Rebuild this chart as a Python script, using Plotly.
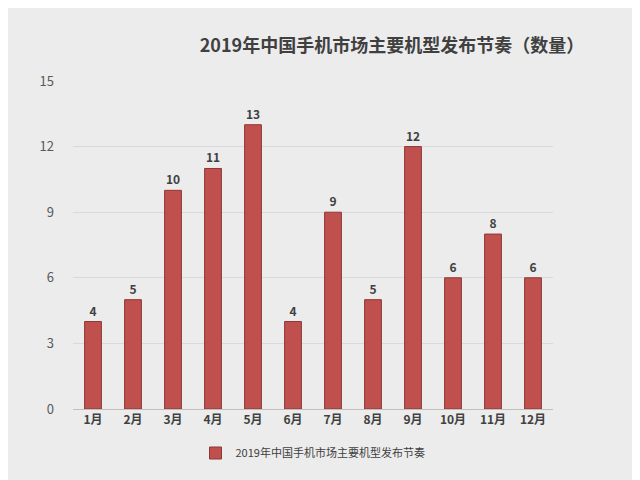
import plotly.graph_objects as go

months = ["1月", "2月", "3月", "4月", "5月", "6月", "7月", "8月", "9月", "10月", "11月", "12月"]
counts = [4, 5, 10, 11, 13, 4, 9, 5, 12, 6, 8, 6]
series_name = "2019年中国手机市场主要机型发布节奏"
y_ticks = [0, 3, 6, 9, 12, 15]

font = "Noto Sans CJK SC"

fig = go.Figure()
fig.add_trace(
    go.Bar(
        x=months,
        y=counts,
        name=series_name,
        marker=dict(color="#c0504d", line=dict(color="#8c3836", width=1)),
        width=0.42,
        text=[f"<b>{c}</b>" for c in counts],
        textposition="outside",
        textfont=dict(size=12, color="#404040", family=font),
        cliponaxis=False,
        showlegend=True,
    )
)
fig.update_layout(
    width=640,
    height=480,
    title=dict(
        text="<b>2019年中国手机市场主要机型发布节奏（数量）</b>",
        x=0.6,
        y=0.935,
        xanchor="center",
        font=dict(size=18, color="#404040", family=font),
    ),
    paper_bgcolor="#ececec",
    plot_bgcolor="#ececec",
    margin=dict(l=65, r=95, t=73, b=79),
    xaxis=dict(
        showline=True,
        linecolor="#bfbfbf",
        tickfont=dict(size=12, color="#404040", family=font),
        tickprefix="<b>",
        ticksuffix="</b>",
        ticks="",
    ),
    yaxis=dict(
        range=[0, 15],
        tickvals=y_ticks,
        gridcolor="#d9d9d9",
        zeroline=False,
        tickfont=dict(size=13, color="#595959", family=font),
        ticklabelstandoff=18,
    ),
    legend=dict(
        orientation="h",
        x=0.5,
        xanchor="center",
        y=-0.09,
        yanchor="top",
        itemwidth=30,
        font=dict(size=11, color="#404040", family=font),
    ),
)
fig.write_html("out.html")
